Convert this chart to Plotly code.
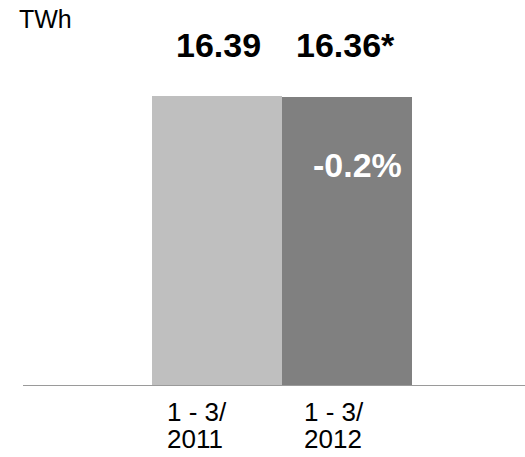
import plotly.graph_objects as go

# Electricity volume, first quarter comparison
periods = [["1 - 3/", "2011"], ["1 - 3/", "2012"]]
volumes_twh = [16.39, 16.36]
value_suffix = ["", "*"]
change_label = "-0.2%"
unit_label = "TWh"
bar_colors = ["#bfbfbf", "#808080"]

W, H = 525, 457
ml, mr, mt, mb = 17, 0, 20, 71
plot_w = W - ml - mr
plot_h = H - mt - mb
y_top = 16.39 * plot_h / 290.0

font_family = "Liberation Sans, Arial, sans-serif"


def px(x):
    return (x - ml) / plot_w


def py(y):
    return (H - mb - y) / plot_h


x_pos = list(range(len(periods)))

fig = go.Figure()
fig.add_trace(go.Bar(
    x=x_pos,
    y=volumes_twh,
    width=1.0,
    marker=dict(color=bar_colors, line=dict(width=0)),
    hoverinfo="skip",
))

# value labels above the bars
value_centers = [218.5, 345.5]
for v, s, cx in zip(volumes_twh, value_suffix, value_centers):
    fig.add_annotation(
        x=px(cx), y=py(44.5), xref="paper", yref="paper",
        text=f"<b>{v:.2f}{s}</b>", showarrow=False,
        xanchor="center", yanchor="middle",
        font=dict(family=font_family, size=34, color="#000000"),
    )

# percentage change inside the second bar
fig.add_annotation(
    x=px(357.5), y=py(164.5), xref="paper", yref="paper",
    text=f"<b>{change_label}</b>", showarrow=False,
    xanchor="center", yanchor="middle",
    font=dict(family=font_family, size=34, color="#ffffff"),
)

# category labels below the axis, one annotation per line
label_lefts = [165, 302]
line_centers = [412.5, 439.0]
for lines, lx in zip(periods, label_lefts):
    for line, ly in zip(lines, line_centers):
        fig.add_annotation(
            x=px(lx), y=py(ly), xref="paper", yref="paper",
            text=line, showarrow=False,
            xanchor="left", yanchor="middle",
            font=dict(family=font_family, size=26, color="#000000"),
        )

# unit label
fig.add_annotation(
    x=px(17), y=py(19.5), xref="paper", yref="paper",
    text=unit_label, showarrow=False,
    xanchor="left", yanchor="middle",
    font=dict(family=font_family, size=25, color="#000000"),
)

x_left = -0.5 - (152 - ml) / 130.0
x_right = -0.5 + (W - mr - 152) / 130.0

fig.update_layout(
    width=W, height=H,
    margin=dict(l=ml, r=mr, t=mt, b=mb, pad=0),
    paper_bgcolor="#ffffff", plot_bgcolor="#ffffff",
    showlegend=False,
    bargap=0,
    xaxis=dict(range=[x_left, x_right], showticklabels=False, showgrid=False,
               zeroline=False, showline=False, ticks="", fixedrange=True),
    yaxis=dict(range=[0, y_top], visible=False, showgrid=False, zeroline=False,
               fixedrange=True),
    shapes=[dict(type="line", xref="paper", yref="y",
                 x0=px(23), x1=1, y0=0, y1=0,
                 line=dict(color="#9a9a9a", width=2))],
)

fig.write_html("out.html")
